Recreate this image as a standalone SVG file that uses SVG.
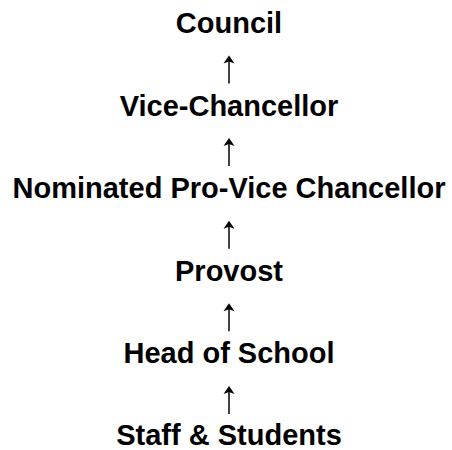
<svg xmlns="http://www.w3.org/2000/svg" width="452" height="450" viewBox="0 0 452 450">
  <style>
    .node { font-family: "Liberation Sans", Arial, sans-serif; font-weight: bold; font-size: 29px; fill: #000; text-anchor: middle; }
    .shaft { stroke: #000; stroke-width: 1.5; fill: none; }
    .head { fill: #000; }
  </style>
  <defs>
    <!-- upward arrow, tip at origin -->
    <g id="up-arrow">
      <line class="shaft" x1="0" y1="4" x2="0" y2="28"/>
      <path class="head" d="M0,0 L5.5,8 L0,6 L-5.5,8 Z"/>
    </g>
  </defs>
  <rect width="452" height="450" fill="#fff"/>
  <g id="council"><text class="node" x="229" y="33">Council</text></g>
  <g id="vice-chancellor"><text class="node" x="229" y="115.6">Vice-Chancellor</text></g>
  <g id="pro-vice-chancellor"><text class="node" x="229" y="198.2">Nominated Pro-Vice Chancellor</text></g>
  <g id="provost"><text class="node" x="229" y="280.8">Provost</text></g>
  <g id="head-of-school"><text class="node" x="229" y="363.4">Head of School</text></g>
  <g id="staff-students"><text class="node" x="229" y="445">Staff &amp; Students</text></g>
  <g id="connectors">
    <use href="#up-arrow" x="229" y="55.5"/>
    <use href="#up-arrow" x="229" y="138.1"/>
    <use href="#up-arrow" x="229" y="220.7"/>
    <use href="#up-arrow" x="229" y="303.3"/>
    <use href="#up-arrow" x="229" y="385.9"/>
  </g>
</svg>
